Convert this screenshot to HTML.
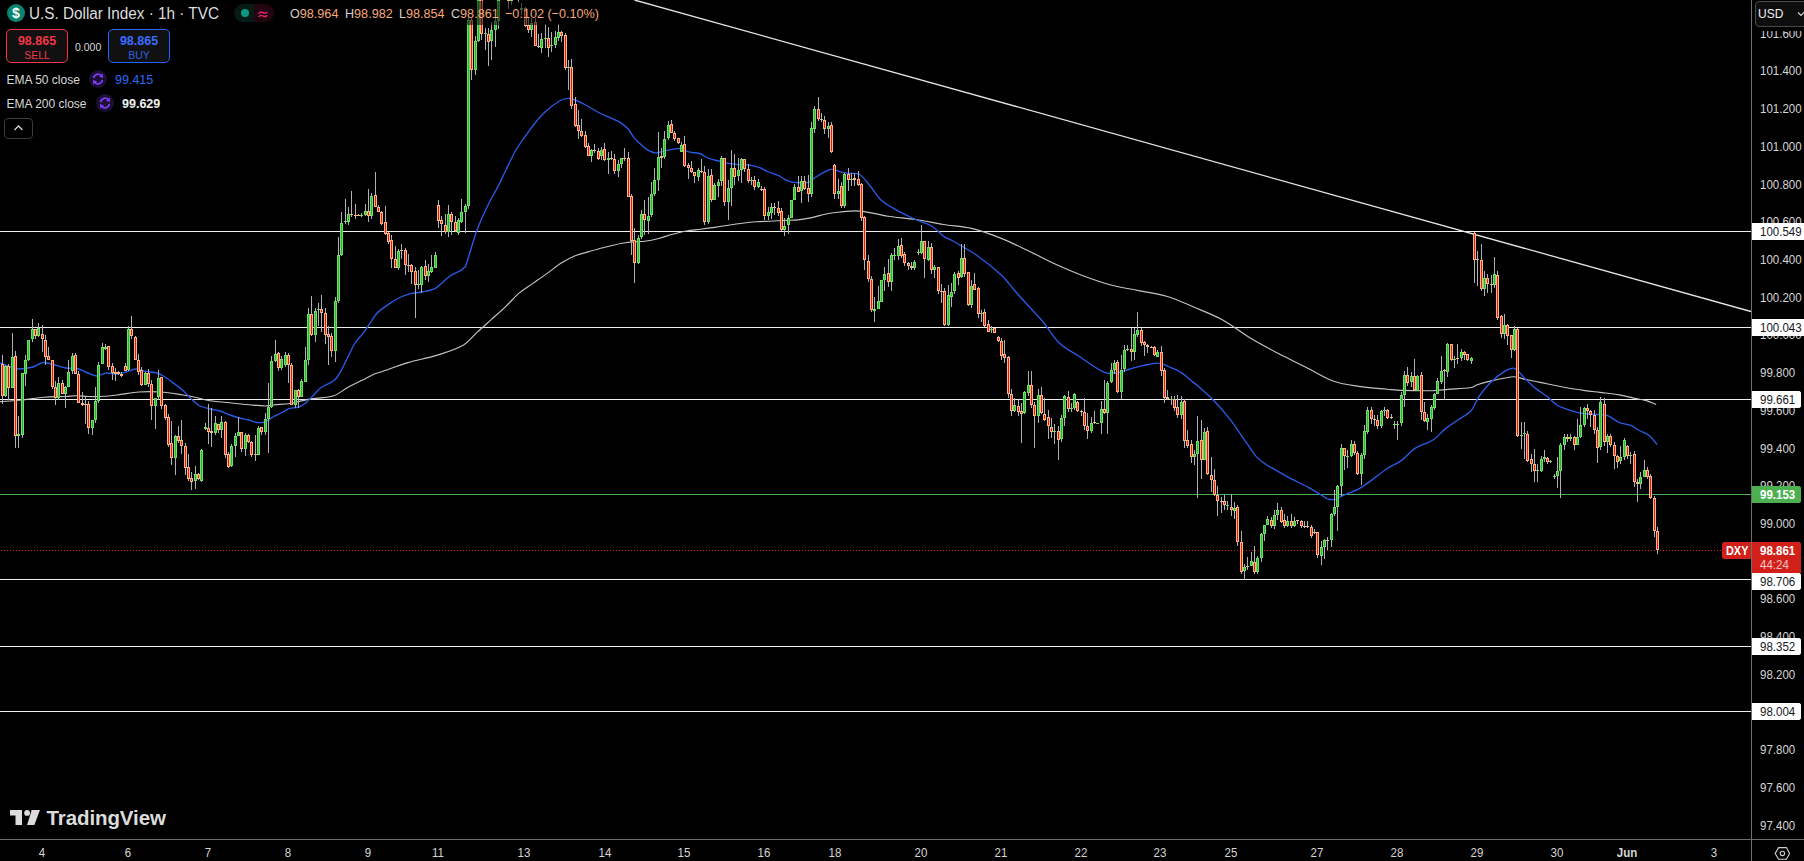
<!DOCTYPE html>
<html><head><meta charset="utf-8">
<style>
*{box-sizing:border-box}
html,body{margin:0;padding:0;background:#000;}
body{width:1804px;height:861px;overflow:hidden;position:relative;font-family:"Liberation Sans",sans-serif;color:#d1d4dc;}
.chart{position:absolute;left:0;top:0;}
.abs{position:absolute;white-space:nowrap;}
.vsep{position:absolute;left:1751px;top:0;width:1px;height:861px;background:#6e6e6e;}
.hsep{position:absolute;left:0;top:839px;width:1804px;height:1px;background:#6e6e6e;}
.pl{position:absolute;left:1760px;font-size:12.4px;line-height:14px;height:14px;color:#d6d6d6;transform:scaleX(0.93);transform-origin:0 0;}
.tl{position:absolute;top:846px;font-size:12.4px;line-height:14px;color:#d6d6d6;transform:translateX(-50%) scaleX(0.93);}
.tag{position:absolute;left:1752px;height:17px;font-size:11.5px;line-height:17px;padding-left:8px;border-radius:0 3px 3px 0;white-space:nowrap;}
.tag.w{background:#fff;color:#131722;}
.lg{position:absolute;white-space:nowrap;line-height:16px;}
.ts{display:inline-block;font-size:12.4px;transform:scaleX(0.93);transform-origin:0 50%;line-height:17px;vertical-align:top;margin-top:0.5px;}
</style></head><body>
<svg class="chart" width="1751" height="839" viewBox="0 0 1751 839">
<g shape-rendering="crispEdges">
<rect x="0" y="231" width="1751" height="1" fill="#f0f0f0"/>
<rect x="0" y="327" width="1751" height="1" fill="#f0f0f0"/>
<rect x="0" y="399" width="1751" height="1" fill="#f0f0f0"/>
<rect x="0" y="579" width="1751" height="1" fill="#f0f0f0"/>
<rect x="0" y="646" width="1751" height="1" fill="#f0f0f0"/>
<rect x="0" y="711" width="1751" height="1" fill="#f0f0f0"/>
<rect x="0" y="494" width="1751" height="1" fill="#4caf50"/>
</g>
<line x1="634.5" y1="0" x2="1751" y2="311.5" stroke="#e6e6e6" stroke-width="1.3"/>
<path d="M0.0 401.6C7.3 401.1 14.7 400.7 22.0 400.0C29.3 399.3 36.7 397.8 44.0 397.2C51.3 396.6 58.7 396.8 66.0 396.5C69.7 396.3 73.3 395.7 77.0 395.7C80.7 395.7 84.3 396.4 88.0 396.5C92.0 396.6 96.0 396.7 100.0 396.5C105.7 396.2 111.3 395.7 117.0 395.0C124.3 394.2 131.7 392.5 139.0 392.0C146.3 391.5 153.7 391.5 161.0 392.0C168.3 392.5 175.7 393.9 183.0 395.0C187.0 395.6 191.0 396.3 195.0 397.2C199.9 398.3 204.9 400.0 209.8 400.8C216.4 401.8 222.9 402.1 229.5 402.7C236.1 403.4 242.7 404.1 249.3 404.7C254.5 405.2 259.8 405.9 265.0 406.0C267.7 406.0 270.3 405.3 273.0 405.0C278.7 404.4 284.3 404.3 290.0 403.5C293.0 403.1 296.0 402.0 299.0 401.4C303.6 400.4 308.3 399.3 312.9 398.6C319.8 397.5 326.8 398.0 333.7 395.8C338.4 394.3 343.0 390.1 347.7 387.5C352.3 385.0 357.0 382.8 361.6 380.5C366.2 378.2 370.9 375.7 375.5 373.6C377.0 372.9 378.5 372.8 380.0 372.3C389.3 369.1 398.6 365.4 407.9 362.6C417.2 359.8 426.4 358.5 435.7 355.6C445.0 352.7 454.3 350.3 463.6 345.0C468.2 342.4 472.9 336.2 477.5 331.9C482.2 327.6 486.8 323.6 491.5 319.4C496.1 315.2 500.8 311.2 505.4 306.8C510.1 302.4 514.7 296.9 519.4 292.9C524.0 289.0 528.7 286.4 533.3 283.1C537.9 279.9 542.6 276.7 547.2 273.4C551.9 270.1 556.5 266.0 561.2 263.1C565.8 260.2 570.5 257.7 575.1 255.8C579.7 253.9 584.4 252.9 589.0 251.6C593.7 250.2 598.3 248.8 603.0 247.7C610.4 245.9 617.9 243.8 625.3 242.7C631.8 241.7 638.3 242.1 644.8 241.3C649.4 240.7 654.1 239.7 658.7 238.5C663.3 237.3 668.0 235.5 672.6 234.3C677.3 233.0 681.9 231.8 686.6 231.0C691.2 230.2 695.9 229.9 700.5 229.3C705.2 228.7 709.8 228.1 714.5 227.4C719.1 226.7 723.8 225.9 728.4 225.2C733.0 224.5 737.7 223.8 742.3 223.2C747.0 222.6 751.6 222.1 756.3 221.8C760.9 221.5 765.6 221.4 770.2 221.2C774.8 221.0 779.5 220.6 784.1 220.4C788.8 220.2 793.4 220.4 798.1 219.9C802.7 219.4 807.4 218.6 812.0 217.6C816.6 216.6 821.3 214.9 825.9 214.0C830.6 213.1 835.2 212.4 839.9 212.0C846.6 211.4 853.3 210.5 860.0 211.1C869.3 211.9 878.6 214.8 887.9 216.2C897.2 217.6 906.4 218.1 915.7 219.5C925.0 220.9 934.3 223.0 943.6 224.5C952.9 226.0 962.2 226.2 971.5 228.4C980.8 230.6 990.1 234.0 999.4 237.6C1008.7 241.2 1017.9 245.8 1027.2 250.2C1036.5 254.6 1045.8 259.8 1055.1 264.1C1064.4 268.4 1073.7 272.3 1083.0 275.8C1092.3 279.3 1101.5 282.5 1110.8 285.0C1120.1 287.5 1129.4 288.7 1138.7 290.6C1148.0 292.5 1157.3 293.4 1166.6 296.2C1175.9 299.0 1185.1 303.4 1194.4 307.3C1203.7 311.2 1213.0 314.7 1222.3 319.8C1231.6 324.9 1240.9 332.4 1250.2 338.0C1259.5 343.6 1268.7 348.4 1278.0 353.3C1287.3 358.2 1296.6 362.5 1305.9 367.2C1315.2 371.8 1324.5 377.9 1333.8 381.2C1342.9 384.4 1352.0 385.2 1361.1 386.6C1369.8 387.9 1378.6 388.4 1387.3 389.2C1391.9 389.6 1396.6 390.2 1401.2 390.4C1411.8 390.7 1422.4 390.9 1433.0 390.7C1438.1 390.6 1443.2 389.8 1448.3 389.4C1456.0 388.8 1463.6 388.7 1471.3 387.5C1473.0 387.2 1474.8 385.6 1476.5 385.0C1481.0 383.5 1485.5 382.2 1490.0 381.1C1495.0 379.9 1500.0 378.9 1505.0 378.0C1508.1 377.4 1511.3 376.6 1514.4 376.8C1518.2 377.1 1522.1 378.7 1525.9 379.5C1532.9 381.0 1539.8 382.3 1546.8 383.7C1551.7 384.7 1556.5 385.9 1561.4 386.8C1569.3 388.2 1577.1 389.5 1585.0 390.6C1589.9 391.3 1594.9 391.8 1599.8 392.4C1606.4 393.2 1612.9 393.8 1619.5 394.9C1625.4 395.9 1631.4 397.6 1637.3 398.9C1640.6 399.6 1643.9 399.9 1647.2 400.9C1650.2 401.8 1653.1 403.2 1656.1 404.4" fill="none" stroke="#c4c4c4" stroke-width="1.15"/>
<path d="M0.0 363.0C3.3 364.3 6.7 365.9 10.0 367.0C12.7 367.9 15.3 369.0 18.0 369.0C23.0 369.0 28.0 368.3 33.0 367.0C36.3 366.1 39.7 362.8 43.0 362.5C47.0 362.1 51.0 364.0 55.0 365.0C58.7 365.9 62.3 367.4 66.0 368.0C69.7 368.6 73.3 367.7 77.0 368.5C80.7 369.3 84.3 371.6 88.0 373.0C91.0 374.1 94.0 376.0 97.0 376.0C100.0 376.0 103.0 373.3 106.0 373.0C109.7 372.6 113.3 374.3 117.0 374.0C120.7 373.7 124.3 372.4 128.0 371.4C130.7 370.7 133.3 369.0 136.0 369.0C139.3 369.0 142.7 370.8 146.0 371.4C149.7 372.1 153.3 372.0 157.0 373.0C159.1 373.6 161.3 374.7 163.4 376.0C166.3 377.7 169.1 379.9 172.0 382.0C175.7 384.7 179.3 387.3 183.0 390.6C186.7 393.9 190.3 398.3 194.0 401.6C196.0 403.4 198.0 405.1 200.0 406.0C203.3 407.5 206.7 408.2 210.0 409.0C213.3 409.8 216.7 410.0 220.0 411.0C223.3 412.0 226.7 413.8 230.0 415.0C233.0 416.1 236.0 417.2 239.0 418.0C242.3 418.9 245.7 419.2 249.0 420.0C251.7 420.7 254.3 422.2 257.0 422.5C259.7 422.8 262.3 422.9 265.0 422.0C267.7 421.1 270.3 418.5 273.0 417.0C275.7 415.5 278.3 414.4 281.0 413.0C283.7 411.6 286.3 409.6 289.0 408.7C292.3 407.6 295.7 408.2 299.0 407.0C301.3 406.2 303.7 404.7 306.0 402.8C308.3 400.9 310.7 398.2 313.0 395.8C315.7 393.1 318.3 389.4 321.0 387.5C325.3 384.3 329.7 384.1 334.0 380.5C336.3 378.6 338.7 374.8 341.0 370.8C343.3 366.9 345.7 361.4 348.0 356.8C350.3 352.2 352.7 346.7 355.0 343.0C357.3 339.3 359.7 337.6 362.0 334.6C364.3 331.6 366.7 328.2 369.0 324.8C371.2 321.7 373.3 317.8 375.5 315.0C377.0 313.0 378.5 311.6 380.0 310.4C383.7 307.5 387.4 305.0 391.1 302.6C394.4 300.5 397.6 298.5 400.9 297.0C404.2 295.5 407.4 294.5 410.7 293.7C414.4 292.8 418.1 292.8 421.8 292.0C426.4 291.0 431.1 290.7 435.7 288.1C440.4 285.5 445.0 279.6 449.7 276.2C454.8 272.5 459.9 272.6 465.0 267.0C466.4 265.5 467.8 259.0 469.2 254.7C472.0 246.2 474.7 236.0 477.5 228.8C481.2 219.0 485.0 211.4 488.7 203.7C491.5 198.0 494.2 193.8 497.0 188.4C499.7 183.2 502.3 177.4 505.0 172.0C508.7 164.6 512.3 156.1 516.0 150.0C521.3 141.1 526.7 134.0 532.0 127.0C536.3 121.3 540.7 116.1 545.0 112.0C549.9 107.4 554.7 103.7 559.6 101.0C562.9 99.2 566.3 98.1 569.6 98.5C574.3 99.1 579.0 101.7 583.7 104.0C589.0 106.6 594.2 110.4 599.5 113.0C606.1 116.3 612.7 118.2 619.3 121.9C622.2 123.5 625.1 125.7 628.0 128.8C630.0 130.9 632.0 135.2 634.0 137.7C636.0 140.2 638.0 141.8 640.0 143.6C642.3 145.8 644.7 148.3 647.0 149.7C649.8 151.4 652.7 152.7 655.5 152.8C659.0 153.0 662.5 151.3 666.0 150.7C670.2 149.9 674.3 148.4 678.5 148.6C682.0 148.8 685.5 151.0 689.0 151.8C693.1 152.8 697.2 152.8 701.3 154.0C702.4 154.3 703.6 155.9 704.7 156.5C707.5 157.8 710.2 158.8 713.0 159.7C714.9 160.3 716.8 160.5 718.7 161.0C721.5 161.7 724.2 162.7 727.0 163.2C730.3 163.8 733.5 164.0 736.8 164.3C741.4 164.7 746.1 164.7 750.7 165.3C753.5 165.7 756.2 166.4 759.0 167.4C761.8 168.4 764.6 170.3 767.4 171.5C771.1 173.1 774.9 174.0 778.6 175.7C781.4 177.0 784.2 179.5 787.0 180.6C789.7 181.7 792.3 182.2 795.0 182.4C799.7 182.8 804.3 183.4 809.0 182.3C810.8 181.9 812.6 179.2 814.4 178.0C817.9 175.7 821.3 173.7 824.8 171.9C826.9 170.8 828.9 169.3 831.0 169.3C834.2 169.3 837.3 171.2 840.5 171.9C843.4 172.5 846.3 172.9 849.2 173.3C852.7 173.8 856.2 172.4 859.7 174.5C863.1 176.6 866.6 181.7 870.0 185.8C873.7 190.2 877.3 196.6 881.0 200.0C886.1 204.6 891.1 207.0 896.2 209.8C902.7 213.5 909.2 216.5 915.7 219.5C921.3 222.1 926.9 223.1 932.5 226.5C936.2 228.7 939.9 233.5 943.6 236.2C946.1 238.0 948.5 238.6 951.0 240.0C959.6 244.9 968.1 249.3 976.7 255.3C985.1 261.2 993.6 267.9 1002.0 275.8C1006.3 279.8 1010.7 286.1 1015.0 291.0C1019.3 295.9 1023.5 300.5 1027.8 305.2C1032.9 310.8 1037.9 315.7 1043.0 321.8C1048.1 328.0 1053.3 337.3 1058.4 342.2C1065.3 348.8 1072.1 351.8 1079.0 356.3C1087.5 361.9 1095.9 368.7 1104.4 372.4C1108.6 374.2 1112.8 373.6 1117.0 373.0C1121.3 372.4 1125.7 370.2 1130.0 369.0C1134.3 367.8 1138.5 366.6 1142.8 365.7C1147.9 364.7 1152.9 363.0 1158.0 363.2C1161.4 363.3 1164.9 365.1 1168.3 366.5C1172.5 368.2 1176.8 369.8 1181.0 372.4C1184.3 374.5 1187.7 377.8 1191.0 380.5C1194.0 382.9 1197.0 385.1 1200.0 387.7C1204.7 391.8 1209.3 395.8 1214.0 400.7C1219.6 406.6 1225.1 413.0 1230.7 420.2C1235.9 427.0 1241.2 435.3 1246.4 442.7C1249.7 447.4 1253.0 452.9 1256.3 456.6C1259.6 460.2 1262.8 462.2 1266.1 464.5C1269.1 466.6 1272.0 468.0 1275.0 469.7C1279.7 472.4 1284.3 475.2 1289.0 477.7C1295.4 481.1 1301.9 483.9 1308.3 487.3C1312.6 489.6 1316.8 492.3 1321.1 494.9C1323.2 496.2 1325.4 498.1 1327.5 498.8C1330.1 499.6 1332.6 499.9 1335.2 499.4C1337.3 499.0 1339.5 497.2 1341.6 496.2C1348.1 493.2 1354.6 491.5 1361.1 487.6C1369.8 482.3 1378.6 474.4 1387.3 468.5C1391.9 465.4 1396.6 464.0 1401.2 460.6C1405.8 457.3 1410.4 451.4 1415.0 448.4C1421.0 444.5 1427.0 443.9 1433.0 440.0C1437.3 437.2 1441.5 431.8 1445.8 428.4C1450.1 425.0 1454.3 422.5 1458.6 419.5C1462.8 416.5 1467.1 415.3 1471.3 410.5C1473.9 407.6 1476.4 400.3 1479.0 396.5C1482.7 391.1 1486.3 386.6 1490.0 383.0C1495.0 378.1 1500.0 374.1 1505.0 371.1C1508.1 369.2 1511.3 367.1 1514.4 368.4C1518.2 369.9 1522.1 375.9 1525.9 379.5C1529.4 382.7 1532.8 386.1 1536.3 388.9C1539.8 391.7 1543.3 393.5 1546.8 396.2C1550.3 398.9 1553.7 403.0 1557.2 405.2C1560.7 407.4 1564.1 408.2 1567.6 409.4C1571.8 410.8 1576.0 412.3 1580.2 413.0C1586.7 414.1 1593.3 414.1 1599.8 414.7C1602.4 415.0 1605.1 414.6 1607.7 415.7C1611.6 417.3 1615.6 421.0 1619.5 422.6C1623.5 424.3 1627.4 424.0 1631.4 425.6C1634.0 426.7 1636.7 429.0 1639.3 430.5C1642.6 432.3 1645.9 432.9 1649.2 435.5C1651.8 437.6 1654.5 441.5 1657.1 444.5" fill="none" stroke="#2a5ae6" stroke-width="1.35"/>
<line x1="1" y1="550.5" x2="1751" y2="550.5" stroke="#e0221c" stroke-width="1" stroke-dasharray="1 2" shape-rendering="crispEdges"/>
<g shape-rendering="crispEdges">
<path d="M2.5 355v49M5.5 365v32M8.5 364v36M12.5 333v55M15.5 351v97M18.5 416v32M22.5 373v65M25.5 355v31M28.5 340v21M32.5 319v23M35.5 329v10M38.5 323v14M42.5 325v27M45.5 335v30M48.5 347v13M52.5 360v29M55.5 381v24M58.5 377v23M62.5 380v14M65.5 386v22M68.5 360v27M72.5 353v21M75.5 353v21M78.5 371v32M82.5 392v14M85.5 397v27M88.5 401v33M92.5 420v15M95.5 387v36M98.5 362v41M102.5 343v21M105.5 344v6M108.5 346v24M112.5 363v17M115.5 368v13M118.5 371v4M121.5 372v5M125.5 363v8M128.5 326v45M131.5 316v23M135.5 336v24M138.5 354v21M141.5 367v19M145.5 372v13M148.5 369v18M151.5 380v40M155.5 398v31M158.5 370v30M161.5 377v32M165.5 404v16M168.5 414v33M171.5 421v44M175.5 435v40M178.5 426v17M181.5 420v34M185.5 443v32M188.5 454v27M191.5 472v18M195.5 466v23M198.5 473v7M201.5 449v33M205.5 423v7M208.5 404v40M211.5 408v39M215.5 416v19M218.5 424v9M221.5 416v22M225.5 421v37M228.5 452v16M231.5 444v23M235.5 433v24M238.5 417v19M241.5 432v20M245.5 433v23M248.5 434v9M251.5 441v16M255.5 435v26M258.5 426v29M261.5 427v8M265.5 413v22M268.5 383v70M271.5 356v52M275.5 340v22M278.5 352v19M281.5 356v14M285.5 352v15M288.5 353v30M291.5 363v42M295.5 390v18M298.5 389v19M301.5 379v18M305.5 347v35M308.5 308v57M311.5 296v40M315.5 308v34M318.5 303v23M321.5 295v37M325.5 308v36M328.5 326v39M331.5 333v24M335.5 297v65M338.5 237v66M341.5 212v44M345.5 199v25M348.5 207v18M351.5 191v26M355.5 204v15M358.5 214v2M361.5 213v4M365.5 204v12M368.5 189v33M371.5 193v26M375.5 172v35M378.5 205v7M381.5 211v14M385.5 206v29M388.5 232v12M391.5 235v33M395.5 246v22M398.5 249v21M401.5 244v15M405.5 248v27M408.5 254v18M411.5 264v20M415.5 267v51M418.5 270v19M421.5 266v27M425.5 260v20M428.5 264v18M431.5 255v18M435.5 252v16M438.5 200v28M441.5 216v20M445.5 214v20M448.5 205v32M451.5 212v23M455.5 216v16M458.5 218v17M461.5 199v24M465.5 204v29M468.5 18v191M471.5 18v62M475.5 36v39M478.5 -6v48M481.5 -5v45M485.5 28v22M488.5 28v38M491.5 22v38M495.5 17v30M498.5 -8v37M501.5 -26v23M505.5 -26v18M508.5 -16v25M511.5 -11v16M515.5 -15v11M518.5 -13v16M521.5 3v12M525.5 7v20M528.5 18v15M531.5 18v19M535.5 18v28M538.5 34v14M541.5 33v20M545.5 24v24M548.5 27v30M551.5 32v20M555.5 31v17M558.5 24v17M561.5 31v11M565.5 33v37M568.5 60v30M571.5 59v50M575.5 97v30M578.5 110v29M581.5 119v18M585.5 131v17M588.5 143v13M591.5 149v13M594.5 144v9M598.5 148v12M601.5 147v13M604.5 143v18M608.5 152v22M611.5 151v9M614.5 154v20M618.5 160v17M621.5 158v10M624.5 148v13M628.5 152v45M631.5 194v61M634.5 228v55M638.5 235v29M641.5 210v29M644.5 200v35M648.5 197v37M651.5 182v35M654.5 168v28M658.5 132v59M661.5 148v20M664.5 131v28M668.5 121v19M671.5 120v13M674.5 131v10M678.5 138v6M681.5 142v10M684.5 136v31M688.5 163v16M691.5 161v12M694.5 172v11M698.5 168v13M701.5 159v14M704.5 166v59M708.5 169v55M711.5 169v33M714.5 183v17M718.5 179v18M721.5 156v30M724.5 158v48M728.5 180v40M731.5 150v56M734.5 154v31M738.5 158v23M741.5 158v25M744.5 159v13M748.5 164v19M751.5 177v8M754.5 176v14M758.5 179v9M761.5 186v5M764.5 187v33M768.5 207v13M771.5 203v16M774.5 203v12M778.5 201v15M781.5 208v23M784.5 218v18M788.5 215v19M791.5 200v18M794.5 184v16M798.5 176v16M801.5 176v27M804.5 176v14M808.5 175v27M811.5 122v75M814.5 106v27M818.5 97v24M821.5 113v9M824.5 116v18M828.5 122v16M831.5 122v31M834.5 164v35M838.5 179v20M841.5 182v26M844.5 173v35M848.5 168v23M851.5 173v13M854.5 173v13M858.5 171v15M861.5 183v38M864.5 216v54M868.5 255v27M871.5 276v36M874.5 297v25M878.5 286v23M881.5 280v17M884.5 267v24M888.5 259v28M891.5 253v38M894.5 248v12M898.5 239v21M901.5 238v20M904.5 252v14M908.5 262v8M911.5 262v8M914.5 260v10M918.5 249v6M921.5 225v29M924.5 241v37M928.5 241v20M931.5 243v31M934.5 265v13M938.5 267v27M941.5 284v19M944.5 288v38M948.5 285v41M951.5 283v24M954.5 272v22M958.5 271v14M961.5 244v34M964.5 244v33M968.5 272v34M971.5 280v28M974.5 273v17M978.5 287v31M981.5 310v12M984.5 309v18M988.5 320v12M991.5 326v7M994.5 328v5M998.5 336v6M1001.5 338v22M1004.5 340v23M1008.5 356v42M1011.5 389v27M1014.5 398v14M1018.5 400v16M1021.5 403v40M1024.5 391v23M1028.5 371v25M1031.5 371v37M1034.5 402v46M1038.5 389v34M1041.5 387v27M1044.5 398v23M1048.5 410v29M1051.5 418v20M1054.5 424v20M1058.5 426v34M1061.5 415v27M1064.5 395v31M1068.5 391v21M1071.5 403v9M1074.5 393v17M1077.5 401v11M1081.5 410v6M1084.5 398v32M1087.5 413v26M1091.5 417v16M1094.5 411v13M1101.5 401v33M1104.5 380v34M1107.5 381v53M1111.5 363v20M1114.5 360v14M1117.5 360v33M1121.5 355v44M1124.5 345v27M1127.5 345v6M1131.5 328v33M1134.5 328v32M1137.5 312v25M1141.5 328v18M1144.5 341v15M1147.5 344v9M1151.5 346v2M1154.5 346v10M1157.5 350v7M1161.5 346v30M1164.5 368v35M1167.5 390v10M1171.5 396v9M1174.5 396v15M1177.5 395v23M1181.5 396v23M1184.5 399v49M1187.5 430v18M1191.5 440v23M1194.5 450v15M1197.5 416v82M1201.5 420v59M1204.5 428v32M1207.5 427v48M1211.5 457v35M1214.5 469v27M1217.5 486v30M1221.5 497v16M1224.5 495v15M1227.5 501v9M1231.5 494v22M1234.5 502v17M1237.5 505v41M1241.5 531v43M1244.5 564v16M1247.5 557v13M1251.5 552v14M1254.5 546v28M1257.5 556v18M1261.5 533v29M1264.5 525v16M1267.5 516v9M1271.5 517v11M1274.5 510v19M1277.5 503v17M1281.5 507v16M1284.5 514v14M1287.5 516v11M1291.5 514v14M1294.5 517v10M1297.5 520v4M1301.5 520v8M1304.5 521v7M1307.5 521v7M1311.5 525v13M1314.5 529v5M1317.5 532v26M1321.5 541v24M1324.5 539v20M1327.5 537v13M1331.5 513v34M1334.5 490v26M1337.5 485v46M1341.5 444v52M1344.5 448v22M1347.5 450v18M1351.5 440v17M1354.5 441v14M1357.5 451v24M1361.5 453v32M1364.5 425v34M1367.5 407v27M1371.5 407v17M1374.5 415v11M1377.5 415v14M1381.5 410v18M1384.5 407v9M1387.5 409v10M1391.5 414v5M1394.5 421v8M1397.5 421v19M1401.5 392v34M1404.5 371v36M1407.5 367v19M1411.5 372v15M1414.5 359v32M1417.5 375v16M1421.5 372v48M1424.5 402v20M1427.5 414v16M1431.5 405v27M1434.5 393v17M1437.5 378v16M1441.5 356v28M1444.5 369v31M1447.5 343v34M1451.5 344v17M1454.5 356v12M1457.5 344v20M1461.5 349v12M1464.5 351v9M1467.5 354v7M1471.5 357v7M1474.5 232v51M1477.5 251v35M1481.5 244v47M1484.5 271v25M1487.5 274v19M1491.5 275v18M1494.5 257v31M1497.5 271v49M1501.5 315v23M1504.5 314v25M1507.5 324v21M1511.5 335v23M1514.5 326v25M1517.5 328v109M1521.5 422v27M1524.5 422v37M1527.5 431v31M1531.5 454v18M1534.5 449v33M1537.5 464v18M1541.5 456v16M1544.5 450v12M1547.5 457v7M1550.5 460v3M1554.5 474v5M1557.5 457v31M1560.5 443v55M1564.5 434v16M1567.5 434v8M1570.5 434v7M1574.5 436v14M1577.5 419v26M1580.5 407v31M1584.5 407v20M1587.5 404v15M1590.5 410v17M1594.5 410v24M1597.5 427v36M1600.5 397v53M1604.5 398v48M1607.5 434v19M1610.5 434v13M1614.5 442v27M1617.5 455v13M1620.5 446v18M1624.5 438v22M1627.5 445v14M1630.5 452v12M1634.5 451v36M1637.5 479v23M1640.5 472v17M1644.5 460v17M1647.5 467v12M1650.5 474v25M1654.5 496v41M1657.5 527v27" stroke="#aeb1b7" stroke-width="1" fill="none"/>
<path d="M4 366h3v30h-3zM11 357h3v31h-3zM17 434h3v2h-3zM21 373h3v62h-3zM24 360h3v14h-3zM27 340h3v20h-3zM31 329h3v10h-3zM37 328h3v8h-3zM57 383h3v15h-3zM64 387h3v7h-3zM67 372h3v15h-3zM71 356h3v15h-3zM91 420h3v8h-3zM94 401h3v19h-3zM97 365h3v36h-3zM101 347h3v17h-3zM104 347h3v2h-3zM127 329h3v41h-3zM144 373h3v12h-3zM154 398h3v8h-3zM157 378h3v19h-3zM174 436h3v22h-3zM194 474h3v7h-3zM200 450h3v31h-3zM204 427h3v2h-3zM214 423h3v10h-3zM220 422h3v8h-3zM230 446h3v20h-3zM234 436h3v10h-3zM237 432h3v4h-3zM244 435h3v14h-3zM257 428h3v27h-3zM264 419h3v13h-3zM267 407h3v12h-3zM270 361h3v46h-3zM274 354h3v7h-3zM280 359h3v9h-3zM284 355h3v10h-3zM294 390h3v15h-3zM300 381h3v16h-3zM304 360h3v22h-3zM307 314h3v46h-3zM314 311h3v24h-3zM317 309h3v1h-3zM334 301h3v50h-3zM337 255h3v46h-3zM340 223h3v32h-3zM344 221h3v1h-3zM347 214h3v8h-3zM360 215h3v1h-3zM364 211h3v4h-3zM370 196h3v20h-3zM397 251h3v17h-3zM417 284h3v1h-3zM420 267h3v18h-3zM427 271h3v5h-3zM430 267h3v5h-3zM434 255h3v13h-3zM447 214h3v18h-3zM457 220h3v13h-3zM460 212h3v10h-3zM464 206h3v6h-3zM467 20h3v186h-3zM474 41h3v29h-3zM477 -5h3v46h-3zM484 33h3v1h-3zM490 30h3v11h-3zM494 21h3v9h-3zM497 -5h3v26h-3zM500 -25h3v20h-3zM510 -10h3v11h-3zM520 8h3v2h-3zM530 23h3v7h-3zM540 39h3v9h-3zM544 38h3v1h-3zM550 45h3v1h-3zM554 37h3v8h-3zM557 32h3v6h-3zM567 67h3v1h-3zM590 150h3v6h-3zM600 150h3v6h-3zM607 158h3v2h-3zM617 164h3v7h-3zM620 158h3v6h-3zM637 238h3v25h-3zM640 214h3v23h-3zM647 216h3v5h-3zM650 194h3v21h-3zM653 180h3v14h-3zM657 157h3v23h-3zM663 139h3v18h-3zM667 125h3v13h-3zM680 145h3v7h-3zM697 170h3v7h-3zM707 176h3v46h-3zM713 185h3v15h-3zM717 182h3v4h-3zM720 158h3v23h-3zM727 188h3v14h-3zM730 168h3v20h-3zM737 170h3v6h-3zM740 159h3v11h-3zM750 180h3v1h-3zM757 182h3v5h-3zM767 212h3v4h-3zM770 207h3v6h-3zM783 226h3v4h-3zM787 218h3v7h-3zM790 200h3v18h-3zM793 187h3v13h-3zM800 181h3v10h-3zM810 128h3v66h-3zM813 109h3v20h-3zM827 126h3v3h-3zM837 191h3v3h-3zM843 174h3v32h-3zM850 179h3v1h-3zM873 309h3v2h-3zM877 301h3v8h-3zM880 280h3v22h-3zM883 274h3v6h-3zM890 255h3v27h-3zM893 255h3v1h-3zM897 246h3v10h-3zM913 262h3v6h-3zM917 252h3v1h-3zM920 241h3v12h-3zM927 247h3v13h-3zM933 267h3v3h-3zM947 295h3v30h-3zM950 292h3v5h-3zM953 274h3v17h-3zM960 258h3v19h-3zM970 286h3v19h-3zM980 313h3v1h-3zM990 329h3v1h-3zM1013 405h3v6h-3zM1023 392h3v21h-3zM1027 385h3v8h-3zM1037 395h3v21h-3zM1053 431h3v1h-3zM1060 418h3v21h-3zM1063 396h3v22h-3zM1070 408h3v1h-3zM1073 394h3v14h-3zM1090 423h3v8h-3zM1096 423h3v1h-3zM1100 409h3v14h-3zM1106 383h3v30h-3zM1110 370h3v12h-3zM1113 363h3v7h-3zM1120 370h3v22h-3zM1123 350h3v19h-3zM1126 349h3v1h-3zM1133 334h3v18h-3zM1136 330h3v5h-3zM1156 352h3v5h-3zM1170 399h3v1h-3zM1180 402h3v13h-3zM1193 454h3v3h-3zM1196 441h3v13h-3zM1203 432h3v28h-3zM1226 505h3v1h-3zM1233 508h3v3h-3zM1243 567h3v4h-3zM1250 561h3v5h-3zM1256 558h3v14h-3zM1260 534h3v24h-3zM1263 525h3v9h-3zM1266 519h3v6h-3zM1273 515h3v11h-3zM1276 510h3v5h-3zM1286 521h3v5h-3zM1293 521h3v5h-3zM1320 547h3v9h-3zM1323 540h3v7h-3zM1330 514h3v26h-3zM1333 507h3v7h-3zM1336 486h3v21h-3zM1340 448h3v38h-3zM1346 456h3v1h-3zM1350 444h3v12h-3zM1360 455h3v19h-3zM1363 431h3v24h-3zM1366 410h3v22h-3zM1380 411h3v15h-3zM1383 410h3v1h-3zM1393 424h3v1h-3zM1396 424h3v1h-3zM1400 395h3v28h-3zM1403 375h3v20h-3zM1410 376h3v6h-3zM1416 376h3v15h-3zM1426 418h3v4h-3zM1430 407h3v12h-3zM1433 394h3v14h-3zM1436 381h3v13h-3zM1440 371h3v11h-3zM1446 344h3v28h-3zM1453 359h3v1h-3zM1460 352h3v6h-3zM1470 358h3v3h-3zM1483 278h3v11h-3zM1493 274h3v11h-3zM1503 325h3v9h-3zM1513 329h3v21h-3zM1520 435h3v1h-3zM1523 433h3v1h-3zM1536 470h3v1h-3zM1540 459h3v12h-3zM1543 457h3v2h-3zM1549 461h3v1h-3zM1553 476h3v1h-3zM1556 471h3v5h-3zM1559 445h3v26h-3zM1563 437h3v8h-3zM1569 437h3v2h-3zM1576 437h3v8h-3zM1579 425h3v12h-3zM1583 408h3v17h-3zM1599 402h3v45h-3zM1606 436h3v6h-3zM1619 457h3v4h-3zM1623 440h3v17h-3zM1629 455h3v1h-3zM1639 477h3v7h-3zM1643 470h3v7h-3z" fill="#6be55c"/>
<path d="M5 367h1v28h-1zM12 358h1v29h-1zM22 374h1v60h-1zM25 361h1v12h-1zM28 341h1v18h-1zM32 330h1v8h-1zM38 329h1v6h-1zM58 384h1v13h-1zM65 388h1v5h-1zM68 373h1v13h-1zM72 357h1v13h-1zM92 421h1v6h-1zM95 402h1v17h-1zM98 366h1v34h-1zM102 348h1v15h-1zM128 330h1v39h-1zM145 374h1v10h-1zM155 399h1v6h-1zM158 379h1v17h-1zM175 437h1v20h-1zM195 475h1v5h-1zM201 451h1v29h-1zM215 424h1v8h-1zM221 423h1v6h-1zM231 447h1v18h-1zM235 437h1v8h-1zM238 433h1v2h-1zM245 436h1v12h-1zM258 429h1v25h-1zM265 420h1v11h-1zM268 408h1v10h-1zM271 362h1v44h-1zM275 355h1v5h-1zM281 360h1v7h-1zM285 356h1v8h-1zM295 391h1v13h-1zM301 382h1v14h-1zM305 361h1v20h-1zM308 315h1v44h-1zM315 312h1v22h-1zM335 302h1v48h-1zM338 256h1v44h-1zM341 224h1v30h-1zM348 215h1v6h-1zM365 212h1v2h-1zM371 197h1v18h-1zM398 252h1v15h-1zM421 268h1v16h-1zM428 272h1v3h-1zM431 268h1v3h-1zM435 256h1v11h-1zM448 215h1v16h-1zM458 221h1v11h-1zM461 213h1v8h-1zM465 207h1v4h-1zM468 21h1v184h-1zM475 42h1v27h-1zM478 -4h1v44h-1zM491 31h1v9h-1zM495 22h1v7h-1zM498 -4h1v24h-1zM501 -24h1v18h-1zM511 -9h1v9h-1zM531 24h1v5h-1zM541 40h1v7h-1zM555 38h1v6h-1zM558 33h1v4h-1zM591 151h1v4h-1zM601 151h1v4h-1zM618 165h1v5h-1zM621 159h1v4h-1zM638 239h1v23h-1zM641 215h1v21h-1zM648 217h1v3h-1zM651 195h1v19h-1zM654 181h1v12h-1zM658 158h1v21h-1zM664 140h1v16h-1zM668 126h1v11h-1zM681 146h1v5h-1zM698 171h1v5h-1zM708 177h1v44h-1zM714 186h1v13h-1zM718 183h1v2h-1zM721 159h1v21h-1zM728 189h1v12h-1zM731 169h1v18h-1zM738 171h1v4h-1zM741 160h1v9h-1zM758 183h1v3h-1zM768 213h1v2h-1zM771 208h1v4h-1zM784 227h1v2h-1zM788 219h1v5h-1zM791 201h1v16h-1zM794 188h1v11h-1zM801 182h1v8h-1zM811 129h1v64h-1zM814 110h1v18h-1zM828 127h1v1h-1zM838 192h1v1h-1zM844 175h1v30h-1zM878 302h1v6h-1zM881 281h1v20h-1zM884 275h1v4h-1zM891 256h1v25h-1zM898 247h1v8h-1zM914 263h1v4h-1zM921 242h1v10h-1zM928 248h1v11h-1zM934 268h1v1h-1zM948 296h1v28h-1zM951 293h1v3h-1zM954 275h1v15h-1zM961 259h1v17h-1zM971 287h1v17h-1zM1014 406h1v4h-1zM1024 393h1v19h-1zM1028 386h1v6h-1zM1038 396h1v19h-1zM1061 419h1v19h-1zM1064 397h1v20h-1zM1074 395h1v12h-1zM1091 424h1v6h-1zM1101 410h1v12h-1zM1107 384h1v28h-1zM1111 371h1v10h-1zM1114 364h1v5h-1zM1121 371h1v20h-1zM1124 351h1v17h-1zM1134 335h1v16h-1zM1137 331h1v3h-1zM1157 353h1v3h-1zM1181 403h1v11h-1zM1194 455h1v1h-1zM1197 442h1v11h-1zM1204 433h1v26h-1zM1234 509h1v1h-1zM1244 568h1v2h-1zM1251 562h1v3h-1zM1257 559h1v12h-1zM1261 535h1v22h-1zM1264 526h1v7h-1zM1267 520h1v4h-1zM1274 516h1v9h-1zM1277 511h1v3h-1zM1287 522h1v3h-1zM1294 522h1v3h-1zM1321 548h1v7h-1zM1324 541h1v5h-1zM1331 515h1v24h-1zM1334 508h1v5h-1zM1337 487h1v19h-1zM1341 449h1v36h-1zM1351 445h1v10h-1zM1361 456h1v17h-1zM1364 432h1v22h-1zM1367 411h1v20h-1zM1381 412h1v13h-1zM1401 396h1v26h-1zM1404 376h1v18h-1zM1411 377h1v4h-1zM1417 377h1v13h-1zM1427 419h1v2h-1zM1431 408h1v10h-1zM1434 395h1v12h-1zM1437 382h1v11h-1zM1441 372h1v9h-1zM1447 345h1v26h-1zM1461 353h1v4h-1zM1471 359h1v1h-1zM1484 279h1v9h-1zM1494 275h1v9h-1zM1504 326h1v7h-1zM1514 330h1v19h-1zM1541 460h1v10h-1zM1557 472h1v3h-1zM1560 446h1v24h-1zM1564 438h1v6h-1zM1577 438h1v6h-1zM1580 426h1v10h-1zM1584 409h1v15h-1zM1600 403h1v43h-1zM1607 437h1v4h-1zM1620 458h1v2h-1zM1624 441h1v15h-1zM1640 478h1v5h-1zM1644 471h1v5h-1z" fill="#3ba84a"/>
<path d="M1 364h3v32h-3zM7 366h3v22h-3zM14 356h3v80h-3zM34 329h3v7h-3zM41 334h3v5h-3zM44 340h3v17h-3zM47 356h3v4h-3zM51 360h3v27h-3zM54 387h3v11h-3zM61 383h3v11h-3zM74 355h3v19h-3zM77 374h3v29h-3zM81 403h3v2h-3zM84 404h3v1h-3zM87 404h3v24h-3zM107 346h3v21h-3zM111 366h3v7h-3zM114 372h3v2h-3zM117 372h3v2h-3zM120 374h3v2h-3zM124 366h3v5h-3zM130 329h3v7h-3zM134 337h3v23h-3zM137 360h3v12h-3zM140 370h3v15h-3zM147 373h3v11h-3zM150 384h3v22h-3zM160 377h3v29h-3zM164 405h3v13h-3zM167 417h3v28h-3zM170 443h3v15h-3zM177 436h3v5h-3zM180 440h3v6h-3zM184 446h3v22h-3zM187 467h3v12h-3zM190 478h3v4h-3zM197 474h3v5h-3zM207 428h3v4h-3zM210 431h3v2h-3zM217 424h3v6h-3zM224 422h3v33h-3zM227 454h3v13h-3zM240 432h3v17h-3zM247 435h3v7h-3zM250 442h3v13h-3zM254 454h3v1h-3zM260 427h3v5h-3zM277 353h3v15h-3zM287 355h3v10h-3zM290 365h3v40h-3zM297 390h3v7h-3zM310 314h3v21h-3zM320 309h3v4h-3zM324 313h3v22h-3zM327 334h3v3h-3zM330 336h3v15h-3zM350 214h3v1h-3zM354 215h3v1h-3zM357 215h3v1h-3zM367 211h3v5h-3zM374 195h3v12h-3zM377 207h3v5h-3zM380 212h3v12h-3zM384 222h3v12h-3zM387 233h3v9h-3zM390 240h3v19h-3zM394 259h3v9h-3zM400 250h3v1h-3zM404 250h3v15h-3zM407 265h3v1h-3zM410 265h3v7h-3zM414 271h3v14h-3zM424 266h3v10h-3zM437 205h3v16h-3zM440 220h3v4h-3zM444 225h3v7h-3zM450 214h3v8h-3zM454 222h3v9h-3zM470 20h3v50h-3zM480 -3h3v37h-3zM487 34h3v8h-3zM504 -25h3v15h-3zM507 -15h3v16h-3zM514 -15h3v10h-3zM517 -12h3v9h-3zM524 8h3v18h-3zM527 25h3v5h-3zM534 22h3v24h-3zM537 46h3v1h-3zM547 38h3v10h-3zM560 32h3v4h-3zM564 35h3v33h-3zM570 67h3v39h-3zM574 104h3v22h-3zM577 125h3v6h-3zM580 131h3v5h-3zM584 135h3v12h-3zM587 146h3v10h-3zM593 150h3v1h-3zM597 151h3v8h-3zM603 149h3v11h-3zM610 158h3v1h-3zM613 159h3v12h-3zM623 158h3v1h-3zM627 158h3v39h-3zM630 196h3v45h-3zM633 240h3v23h-3zM643 214h3v6h-3zM660 156h3v2h-3zM670 124h3v9h-3zM673 133h3v6h-3zM677 138h3v5h-3zM683 144h3v22h-3zM687 165h3v3h-3zM690 168h3v4h-3zM693 172h3v4h-3zM700 171h3v1h-3zM703 172h3v50h-3zM710 175h3v25h-3zM723 158h3v44h-3zM733 168h3v9h-3zM743 159h3v10h-3zM747 169h3v12h-3zM753 180h3v7h-3zM760 189h3v1h-3zM763 189h3v27h-3zM773 207h3v1h-3zM777 208h3v5h-3zM780 211h3v19h-3zM797 187h3v5h-3zM803 181h3v8h-3zM807 188h3v6h-3zM817 109h3v10h-3zM820 119h3v1h-3zM823 120h3v9h-3zM830 125h3v27h-3zM833 165h3v29h-3zM840 186h3v20h-3zM847 174h3v6h-3zM853 178h3v2h-3zM857 179h3v6h-3zM860 184h3v34h-3zM863 217h3v43h-3zM867 261h3v18h-3zM870 279h3v31h-3zM887 273h3v9h-3zM900 245h3v11h-3zM903 254h3v9h-3zM907 263h3v3h-3zM910 266h3v2h-3zM923 241h3v18h-3zM930 247h3v23h-3zM937 267h3v24h-3zM940 291h3v1h-3zM943 291h3v34h-3zM957 273h3v5h-3zM963 258h3v16h-3zM967 272h3v33h-3zM973 284h3v6h-3zM977 288h3v26h-3zM983 312h3v14h-3zM987 324h3v8h-3zM993 328h3v5h-3zM997 337h3v4h-3zM1000 341h3v15h-3zM1003 354h3v4h-3zM1007 357h3v37h-3zM1010 394h3v17h-3zM1017 406h3v6h-3zM1020 411h3v3h-3zM1030 385h3v20h-3zM1033 405h3v11h-3zM1040 395h3v18h-3zM1043 414h3v6h-3zM1047 417h3v9h-3zM1050 427h3v5h-3zM1057 431h3v9h-3zM1067 397h3v12h-3zM1076 402h3v9h-3zM1080 411h3v1h-3zM1083 412h3v14h-3zM1086 426h3v5h-3zM1093 422h3v1h-3zM1103 409h3v4h-3zM1116 362h3v30h-3zM1130 349h3v3h-3zM1140 330h3v13h-3zM1143 342h3v3h-3zM1146 345h3v2h-3zM1150 347h3v1h-3zM1153 347h3v8h-3zM1160 352h3v19h-3zM1163 370h3v28h-3zM1166 397h3v2h-3zM1173 399h3v9h-3zM1176 407h3v8h-3zM1183 401h3v40h-3zM1186 440h3v6h-3zM1190 444h3v13h-3zM1200 440h3v20h-3zM1206 431h3v43h-3zM1210 475h3v5h-3zM1213 480h3v15h-3zM1216 495h3v6h-3zM1220 501h3v1h-3zM1223 501h3v4h-3zM1230 507h3v3h-3zM1236 507h3v35h-3zM1240 542h3v30h-3zM1246 566h3v1h-3zM1253 562h3v10h-3zM1270 520h3v6h-3zM1280 510h3v12h-3zM1283 520h3v6h-3zM1290 521h3v5h-3zM1296 520h3v1h-3zM1300 521h3v5h-3zM1303 526h3v1h-3zM1306 526h3v1h-3zM1310 527h3v9h-3zM1313 532h3v1h-3zM1316 532h3v23h-3zM1326 540h3v1h-3zM1343 448h3v8h-3zM1353 444h3v9h-3zM1356 453h3v21h-3zM1370 410h3v9h-3zM1373 419h3v1h-3zM1376 420h3v6h-3zM1386 410h3v8h-3zM1390 417h3v1h-3zM1406 375h3v8h-3zM1413 376h3v14h-3zM1420 375h3v37h-3zM1423 412h3v9h-3zM1443 370h3v1h-3zM1450 344h3v16h-3zM1456 358h3v1h-3zM1463 352h3v3h-3zM1466 354h3v6h-3zM1473 233h3v27h-3zM1476 259h3v1h-3zM1480 260h3v29h-3zM1486 278h3v6h-3zM1490 284h3v1h-3zM1496 275h3v43h-3zM1500 316h3v18h-3zM1506 325h3v11h-3zM1510 335h3v15h-3zM1516 329h3v107h-3zM1526 434h3v27h-3zM1530 459h3v5h-3zM1533 464h3v7h-3zM1546 458h3v4h-3zM1566 437h3v2h-3zM1573 437h3v8h-3zM1586 408h3v3h-3zM1589 411h3v4h-3zM1593 415h3v15h-3zM1596 430h3v18h-3zM1603 404h3v38h-3zM1609 436h3v9h-3zM1613 445h3v11h-3zM1616 456h3v6h-3zM1626 446h3v10h-3zM1633 454h3v28h-3zM1636 482h3v2h-3zM1646 470h3v7h-3zM1649 476h3v22h-3zM1653 498h3v33h-3zM1656 531h3v19h-3z" fill="#ffb482"/>
<path d="M2 365h1v30h-1zM8 367h1v20h-1zM15 357h1v78h-1zM35 330h1v5h-1zM42 335h1v3h-1zM45 341h1v15h-1zM48 357h1v2h-1zM52 361h1v25h-1zM55 388h1v9h-1zM62 384h1v9h-1zM75 356h1v17h-1zM78 375h1v27h-1zM88 405h1v22h-1zM108 347h1v19h-1zM112 367h1v5h-1zM125 367h1v3h-1zM131 330h1v5h-1zM135 338h1v21h-1zM138 361h1v10h-1zM141 371h1v13h-1zM148 374h1v9h-1zM151 385h1v20h-1zM161 378h1v27h-1zM165 406h1v11h-1zM168 418h1v26h-1zM171 444h1v13h-1zM178 437h1v3h-1zM181 441h1v4h-1zM185 447h1v20h-1zM188 468h1v10h-1zM191 479h1v2h-1zM198 475h1v3h-1zM208 429h1v2h-1zM218 425h1v4h-1zM225 423h1v31h-1zM228 455h1v11h-1zM241 433h1v15h-1zM248 436h1v5h-1zM251 443h1v11h-1zM261 428h1v3h-1zM278 354h1v13h-1zM288 356h1v8h-1zM291 366h1v38h-1zM298 391h1v5h-1zM311 315h1v19h-1zM321 310h1v2h-1zM325 314h1v20h-1zM328 335h1v1h-1zM331 337h1v13h-1zM368 212h1v3h-1zM375 196h1v10h-1zM378 208h1v3h-1zM381 213h1v10h-1zM385 223h1v10h-1zM388 234h1v7h-1zM391 241h1v17h-1zM395 260h1v7h-1zM405 251h1v13h-1zM411 266h1v5h-1zM415 272h1v12h-1zM425 267h1v8h-1zM438 206h1v14h-1zM441 221h1v2h-1zM445 226h1v5h-1zM451 215h1v6h-1zM455 223h1v7h-1zM471 21h1v48h-1zM481 -2h1v35h-1zM488 35h1v6h-1zM505 -24h1v13h-1zM508 -14h1v14h-1zM515 -14h1v8h-1zM518 -11h1v7h-1zM525 9h1v16h-1zM528 26h1v3h-1zM535 23h1v22h-1zM548 39h1v8h-1zM561 33h1v2h-1zM565 36h1v31h-1zM571 68h1v37h-1zM575 105h1v20h-1zM578 126h1v4h-1zM581 132h1v3h-1zM585 136h1v10h-1zM588 147h1v8h-1zM598 152h1v6h-1zM604 150h1v9h-1zM614 160h1v10h-1zM628 159h1v37h-1zM631 197h1v43h-1zM634 241h1v21h-1zM644 215h1v4h-1zM671 125h1v7h-1zM674 134h1v4h-1zM678 139h1v3h-1zM684 145h1v20h-1zM688 166h1v1h-1zM691 169h1v2h-1zM694 173h1v2h-1zM704 173h1v48h-1zM711 176h1v23h-1zM724 159h1v42h-1zM734 169h1v7h-1zM744 160h1v8h-1zM748 170h1v10h-1zM754 181h1v5h-1zM764 190h1v25h-1zM778 209h1v3h-1zM781 212h1v17h-1zM798 188h1v3h-1zM804 182h1v6h-1zM808 189h1v4h-1zM818 110h1v8h-1zM824 121h1v7h-1zM831 126h1v25h-1zM834 166h1v27h-1zM841 187h1v18h-1zM848 175h1v4h-1zM858 180h1v4h-1zM861 185h1v32h-1zM864 218h1v41h-1zM868 262h1v16h-1zM871 280h1v29h-1zM888 274h1v7h-1zM901 246h1v9h-1zM904 255h1v7h-1zM908 264h1v1h-1zM924 242h1v16h-1zM931 248h1v21h-1zM938 268h1v22h-1zM944 292h1v32h-1zM958 274h1v3h-1zM964 259h1v14h-1zM968 273h1v31h-1zM974 285h1v4h-1zM978 289h1v24h-1zM984 313h1v12h-1zM988 325h1v6h-1zM994 329h1v3h-1zM998 338h1v2h-1zM1001 342h1v13h-1zM1004 355h1v2h-1zM1008 358h1v35h-1zM1011 395h1v15h-1zM1018 407h1v4h-1zM1021 412h1v1h-1zM1031 386h1v18h-1zM1034 406h1v9h-1zM1041 396h1v16h-1zM1044 415h1v4h-1zM1048 418h1v7h-1zM1051 428h1v3h-1zM1058 432h1v7h-1zM1068 398h1v10h-1zM1077 403h1v7h-1zM1084 413h1v12h-1zM1087 427h1v3h-1zM1104 410h1v2h-1zM1117 363h1v28h-1zM1131 350h1v1h-1zM1141 331h1v11h-1zM1144 343h1v1h-1zM1154 348h1v6h-1zM1161 353h1v17h-1zM1164 371h1v26h-1zM1174 400h1v7h-1zM1177 408h1v6h-1zM1184 402h1v38h-1zM1187 441h1v4h-1zM1191 445h1v11h-1zM1201 441h1v18h-1zM1207 432h1v41h-1zM1211 476h1v3h-1zM1214 481h1v13h-1zM1217 496h1v4h-1zM1224 502h1v2h-1zM1231 508h1v1h-1zM1237 508h1v33h-1zM1241 543h1v28h-1zM1254 563h1v8h-1zM1271 521h1v4h-1zM1281 511h1v10h-1zM1284 521h1v4h-1zM1291 522h1v3h-1zM1301 522h1v3h-1zM1311 528h1v7h-1zM1317 533h1v21h-1zM1344 449h1v6h-1zM1354 445h1v7h-1zM1357 454h1v19h-1zM1371 411h1v7h-1zM1377 421h1v4h-1zM1387 411h1v6h-1zM1407 376h1v6h-1zM1414 377h1v12h-1zM1421 376h1v35h-1zM1424 413h1v7h-1zM1451 345h1v14h-1zM1464 353h1v1h-1zM1467 355h1v4h-1zM1474 234h1v25h-1zM1481 261h1v27h-1zM1487 279h1v4h-1zM1497 276h1v41h-1zM1501 317h1v16h-1zM1507 326h1v9h-1zM1511 336h1v13h-1zM1517 330h1v105h-1zM1527 435h1v25h-1zM1531 460h1v3h-1zM1534 465h1v5h-1zM1547 459h1v2h-1zM1574 438h1v6h-1zM1587 409h1v1h-1zM1590 412h1v2h-1zM1594 416h1v13h-1zM1597 431h1v16h-1zM1604 405h1v36h-1zM1610 437h1v7h-1zM1614 446h1v9h-1zM1617 457h1v4h-1zM1627 447h1v8h-1zM1634 455h1v26h-1zM1647 471h1v5h-1zM1650 477h1v20h-1zM1654 499h1v31h-1zM1657 532h1v17h-1z" fill="#d91e18"/>
</g>
</svg>
<div class="vsep"></div>
<div class="hsep"></div>
<div class="pl" style="top:818.7px">97.400</div>
<div class="pl" style="top:781.0px">97.600</div>
<div class="pl" style="top:743.3px">97.800</div>
<div class="pl" style="top:705.5px">98.000</div>
<div class="pl" style="top:667.8px">98.200</div>
<div class="pl" style="top:630.1px">98.400</div>
<div class="pl" style="top:592.4px">98.600</div>
<div class="pl" style="top:554.7px">98.800</div>
<div class="pl" style="top:516.9px">99.000</div>
<div class="pl" style="top:479.2px">99.200</div>
<div class="pl" style="top:441.5px">99.400</div>
<div class="pl" style="top:403.8px">99.600</div>
<div class="pl" style="top:366.1px">99.800</div>
<div class="pl" style="top:328.3px">100.000</div>
<div class="pl" style="top:290.6px">100.200</div>
<div class="pl" style="top:252.9px">100.400</div>
<div class="pl" style="top:215.2px">100.600</div>
<div class="pl" style="top:177.5px">100.800</div>
<div class="pl" style="top:139.7px">101.000</div>
<div class="pl" style="top:102.0px">101.200</div>
<div class="pl" style="top:64.3px">101.400</div>
<div class="pl" style="top:26.6px">101.600</div>
<div class="tl" style="left:41.7px;">4</div>
<div class="tl" style="left:127.7px;">6</div>
<div class="tl" style="left:208.0px;">7</div>
<div class="tl" style="left:287.8px;">8</div>
<div class="tl" style="left:367.7px;">9</div>
<div class="tl" style="left:437.8px;">11</div>
<div class="tl" style="left:524.2px;">13</div>
<div class="tl" style="left:604.5px;">14</div>
<div class="tl" style="left:684.4px;">15</div>
<div class="tl" style="left:764.0px;">16</div>
<div class="tl" style="left:834.6px;">18</div>
<div class="tl" style="left:920.8px;">20</div>
<div class="tl" style="left:1000.7px;">21</div>
<div class="tl" style="left:1080.6px;">22</div>
<div class="tl" style="left:1160.3px;">23</div>
<div class="tl" style="left:1230.6px;">25</div>
<div class="tl" style="left:1317.0px;">27</div>
<div class="tl" style="left:1396.9px;">28</div>
<div class="tl" style="left:1477.0px;">29</div>
<div class="tl" style="left:1557.0px;">30</div>
<div class="tl" style="left:1626.8px;font-weight:bold;">Jun</div>
<div class="tl" style="left:1713.7px;">3</div>
<div class="tag" style="top:223.0px;width:56px;height:17px;background:#fff;color:#131722;"><span class="ts">100.549</span></div>
<div class="tag" style="top:319.0px;width:56px;height:17px;background:#fff;color:#131722;"><span class="ts">100.043</span></div>
<div class="tag" style="top:391.0px;width:49px;height:17px;background:#fff;color:#131722;"><span class="ts">99.661</span></div>
<div class="tag" style="top:486.0px;width:49px;height:17px;background:#4caf50;color:#fff;font-weight:bold;"><span class="ts">99.153</span></div>
<div class="tag" style="top:573.0px;width:49px;height:17px;background:#fff;color:#131722;"><span class="ts">98.706</span></div>
<div class="tag" style="top:638.0px;width:49px;height:17px;background:#fff;color:#131722;"><span class="ts">98.352</span></div>
<div class="tag" style="top:703.0px;width:49px;height:17px;background:#fff;color:#131722;"><span class="ts">98.004</span></div>
<div class="abs" style="left:1752px;top:542px;width:49px;height:31px;background:#d11f1a;border-radius:0 3px 0 0;"></div>
<div class="lg" style="left:1760px;top:542.5px;font-size:12.4px;line-height:16px;font-weight:bold;color:#fff;transform:scaleX(0.93);transform-origin:0 0;">98.861</div>
<div class="lg" style="left:1760px;top:556.5px;font-size:12.4px;line-height:16px;color:#f4c4c4;transform:scaleX(0.93);transform-origin:0 0;">44:24</div>
<div class="abs" style="left:1722px;top:542px;width:29px;height:17px;background:#d11f1a;border-radius:3px 0 0 3px;"></div>
<div class="lg" style="left:1725.5px;top:542.5px;font-size:12.4px;line-height:17px;font-weight:bold;color:#fff;transform:scaleX(0.88);transform-origin:0 0;">DXY</div>
<!-- legend dimming -->
<div class="abs" style="left:0;top:1px;width:604px;height:24px;background:rgba(0,0,0,0.55);"></div>
<!-- symbol icon -->
<div class="abs" style="left:7px;top:4px;width:18px;height:18px;border-radius:50%;background:#088571;"></div>
<div class="abs" style="left:7px;top:4px;width:18px;height:18px;line-height:18px;text-align:center;color:#fff;font-weight:bold;font-size:14px;">$</div>
<div class="lg" style="left:28.6px;top:4px;font-size:16px;line-height:19px;color:#dedede;transform:scaleX(0.955);transform-origin:0 0;">U.S. Dollar Index · 1h · TVC</div>
<!-- pill -->
<div class="abs" style="left:234px;top:4px;width:40px;height:18px;border-radius:9px;overflow:hidden;">
 <div class="abs" style="left:0;top:0;width:20px;height:18px;background:#061a16;"></div>
 <div class="abs" style="left:20px;top:0;width:20px;height:18px;background:#220510;"></div>
 <div class="abs" style="left:7px;top:5px;width:8px;height:8px;border-radius:50%;background:#0b9981;"></div>
 <svg class="abs" style="left:24px;top:7px" width="10" height="7" viewBox="0 0 10 7"><path d="M1 2.2C2.5 0.8 4 0.8 5 1.6S7.5 2.4 9 1.2M1 5.6C2.5 4.2 4 4.2 5 5S7.5 5.8 9 4.6" stroke="#e8246a" stroke-width="1.4" fill="none" stroke-linecap="round"/></svg>
</div>
<!-- OHLC -->
<div class="lg" style="left:289.5px;top:5.5px;font-size:13px;color:#d0d0d0;transform:scaleX(0.97);transform-origin:0 0;">O<span style="color:#f7a878">98.964</span></div>
<div class="lg" style="left:344.5px;top:5.5px;font-size:13px;color:#d0d0d0;transform:scaleX(0.97);transform-origin:0 0;">H<span style="color:#f7a878">98.982</span></div>
<div class="lg" style="left:399px;top:5.5px;font-size:13px;color:#d0d0d0;transform:scaleX(0.97);transform-origin:0 0;">L<span style="color:#f7a878">98.854</span></div>
<div class="lg" style="left:451px;top:5.5px;font-size:13px;color:#d0d0d0;transform:scaleX(0.97);transform-origin:0 0;">C<span style="color:#f7a878">98.861</span></div>
<div class="lg" style="left:505px;top:5.5px;font-size:13px;color:#f7a878;transform:scaleX(0.97);transform-origin:0 0;">−0.102 (−0.10%)</div>
<!-- sell / buy -->
<div class="abs" style="left:6px;top:29px;width:62px;height:34px;border:1px solid #f23645;border-radius:5px;background:#111;"></div>
<div class="lg" style="left:6px;top:33px;width:62px;text-align:center;font-size:12.5px;font-weight:bold;color:#f23645;">98.865</div>
<div class="lg" style="left:6px;top:48px;width:62px;text-align:center;font-size:10.5px;line-height:14px;color:#f23645;">SELL</div>
<div class="lg" style="left:75px;top:39.5px;font-size:10.5px;line-height:14px;color:#d8d8d8;">0.000</div>
<div class="abs" style="left:108px;top:29px;width:62px;height:34px;border:1px solid #2962ff;border-radius:5px;background:#111;"></div>
<div class="lg" style="left:108px;top:33px;width:62px;text-align:center;font-size:12.5px;font-weight:bold;color:#3a6dff;">98.865</div>
<div class="lg" style="left:108px;top:48px;width:62px;text-align:center;font-size:10.5px;line-height:14px;color:#2f5fe0;">BUY</div>
<!-- EMA rows -->
<div class="lg" style="left:6.5px;top:72px;font-size:12px;color:#d8d8d8;">EMA 50 close</div>
<div class="abs" style="left:89px;top:70px;width:18px;height:18px;border-radius:50%;background:#1b0f33;"></div>
<svg class="abs" style="left:89px;top:70px" width="18" height="18" viewBox="0 0 18 18"><path d="M4.6 8.2A4.6 4.6 0 0 1 12.6 5.8M13.4 9.8A4.6 4.6 0 0 1 5.4 12.2" stroke="#7c3cf0" stroke-width="1.8" fill="none"/><path d="M13.8 3.6L14 8L10 6.8Z M4.2 14.4L4 10L8 11.2Z" fill="#7c3cf0"/></svg>
<div class="lg" style="left:115px;top:72px;font-size:12.5px;color:#2f6af7;">99.415</div>
<div class="lg" style="left:6.5px;top:96px;font-size:12px;color:#d8d8d8;">EMA 200 close</div>
<div class="abs" style="left:96px;top:94px;width:18px;height:18px;border-radius:50%;background:#1b0f33;"></div>
<svg class="abs" style="left:96px;top:94px" width="18" height="18" viewBox="0 0 18 18"><path d="M4.6 8.2A4.6 4.6 0 0 1 12.6 5.8M13.4 9.8A4.6 4.6 0 0 1 5.4 12.2" stroke="#7c3cf0" stroke-width="1.8" fill="none"/><path d="M13.8 3.6L14 8L10 6.8Z M4.2 14.4L4 10L8 11.2Z" fill="#7c3cf0"/></svg>
<div class="lg" style="left:122px;top:96px;font-size:12.5px;font-weight:bold;color:#f0f0f0;">99.629</div>
<!-- collapse button -->
<div class="abs" style="left:4px;top:118px;width:29px;height:21px;border:1px solid #3b3b3b;border-radius:4px;"></div>
<svg class="abs" style="left:13px;top:124px" width="11" height="8" viewBox="0 0 11 8"><path d="M1.5 6L5.5 2L9.5 6" stroke="#d1d4dc" stroke-width="1.3" fill="none"/></svg>
<!-- logo -->
<svg class="abs" style="left:0;top:800px" width="50" height="32" viewBox="0 800 50 32"><path d="M10 810H22V825H15.5V815.5H10Z" fill="#dcdcdc"/><circle cx="27.1" cy="812.9" r="2.9" fill="#dcdcdc"/><path d="M31.7 810H39.9L34.4 825H27.1Z" fill="#dcdcdc"/></svg>
<div class="lg" style="left:46.5px;top:806px;font-size:20.5px;line-height:24px;font-weight:bold;color:#dcdcdc;letter-spacing:-0.1px;">TradingView</div>
<!-- settings icon -->
<svg class="abs" style="left:1770px;top:843px" width="25" height="20" viewBox="1770 843 25 20"><path d="M1775.2 853.4L1778.6 847.6H1786.4L1789.6 853.4L1786.4 859.3H1778.6Z" stroke="#cfcfcf" stroke-width="1.1" fill="none"/><circle cx="1782.4" cy="853.4" r="2.2" stroke="#cfcfcf" stroke-width="1.1" fill="none"/></svg>
<!-- price axis top cover + USD -->
<div class="abs" style="left:1752px;top:0;width:52px;height:31px;background:#000;"></div>
<div class="abs" style="left:1755px;top:1px;width:60px;height:26px;border:1px solid #4a4a4a;border-radius:4px;background:#0e0e0e;"></div>
<div class="lg" style="left:1758px;top:6px;font-size:12px;color:#f0f0f0;">USD</div>
<svg class="abs" style="left:1797px;top:11px" width="7" height="6" viewBox="0 0 7 6"><path d="M1 1.5L4 4.5L7 1.5" stroke="#d1d4dc" stroke-width="1.2" fill="none"/></svg>
<div class="tag" style="top:223.0px;width:56px;height:17px;background:#fff;color:#131722;"><span class="ts">100.549</span></div>
<div class="tag" style="top:319.0px;width:56px;height:17px;background:#fff;color:#131722;"><span class="ts">100.043</span></div>
<div class="tag" style="top:391.0px;width:49px;height:17px;background:#fff;color:#131722;"><span class="ts">99.661</span></div>
<div class="tag" style="top:486.0px;width:49px;height:17px;background:#4caf50;color:#fff;font-weight:bold;"><span class="ts">99.153</span></div>
<div class="tag" style="top:573.0px;width:49px;height:17px;background:#fff;color:#131722;"><span class="ts">98.706</span></div>
<div class="tag" style="top:638.0px;width:49px;height:17px;background:#fff;color:#131722;"><span class="ts">98.352</span></div>
<div class="tag" style="top:703.0px;width:49px;height:17px;background:#fff;color:#131722;"><span class="ts">98.004</span></div>
<div class="abs" style="left:1752px;top:542px;width:49px;height:31px;background:#d11f1a;border-radius:0 3px 0 0;"></div>
<div class="lg" style="left:1760px;top:542.5px;font-size:12.4px;line-height:16px;font-weight:bold;color:#fff;transform:scaleX(0.93);transform-origin:0 0;">98.861</div>
<div class="lg" style="left:1760px;top:556.5px;font-size:12.4px;line-height:16px;color:#f4c4c4;transform:scaleX(0.93);transform-origin:0 0;">44:24</div>
<div class="abs" style="left:1722px;top:542px;width:29px;height:17px;background:#d11f1a;border-radius:3px 0 0 3px;"></div>
<div class="lg" style="left:1725.5px;top:542.5px;font-size:12.4px;line-height:17px;font-weight:bold;color:#fff;transform:scaleX(0.88);transform-origin:0 0;">DXY</div>
</body></html>
